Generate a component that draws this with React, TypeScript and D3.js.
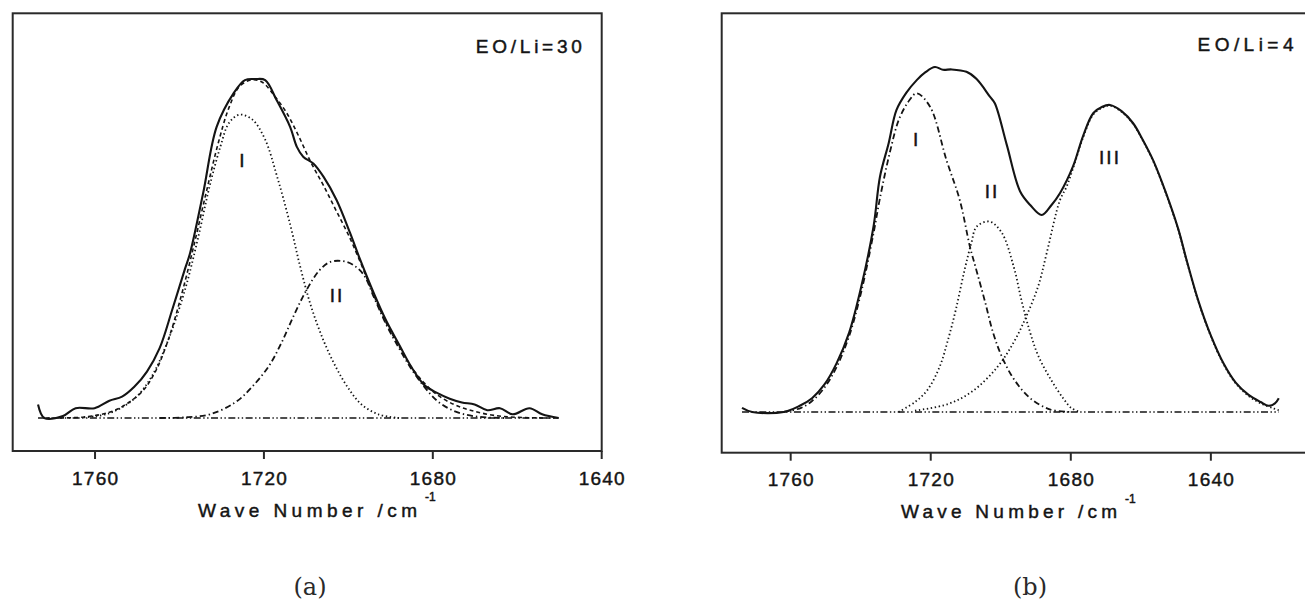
import React from 'react';
import * as d3 from 'd3';

type P = [number, number];

// ---------- data (wave number cm^-1, absorbance a.u.) ----------
const TICK_VALUES = [1760, 1720, 1680, 1640];
const TICK_LABELS = ['1760', '1720', '1680', '1640'];
const AXIS_TITLE = 'Wave Number /cm';
const AXIS_SUP = '-1';
const PANEL_TAGS = ['(a)', '(b)'];
const PANEL_TITLES = ['EO/Li=30', 'EO/Li=4'];
const LABELS_A = ['I', 'II'];
const LABELS_B = ['I', 'II', 'III'];

const A_MAIN: P[] = [
  [1773.5, 0.04], [1772.0, 0.0], [1767.6, 0.006], [1764.6, 0.029], [1760.1, 0.029], [1756.6, 0.051],
  [1753.6, 0.063], [1750.7, 0.092], [1747.7, 0.137], [1744.7, 0.206], [1741.7, 0.32], [1738.7, 0.44],
  [1737.5, 0.486], [1734.4, 0.663], [1731.2, 0.859], [1727.2, 0.958], [1724.5, 0.997], [1722.0, 1.0],
  [1719.7, 0.997], [1717.0, 0.938], [1713.8, 0.859], [1712.2, 0.8], [1710.7, 0.771], [1708.3, 0.751],
  [1705.9, 0.712], [1702.8, 0.643], [1699.6, 0.546], [1697.3, 0.47], [1693.9, 0.366], [1691.0, 0.286],
  [1688.0, 0.217], [1685.0, 0.149], [1682.0, 0.097], [1679.0, 0.074], [1676.0, 0.057], [1673.1, 0.046],
  [1670.1, 0.04], [1667.1, 0.023], [1664.1, 0.029], [1661.1, 0.011], [1657.1, 0.029], [1654.1, 0.011],
  [1650.2, 0.0],
];
const A_FIT: P[] = [
  [1771.6, 0.0], [1762.6, 0.003], [1756.6, 0.017], [1752.7, 0.04], [1748.7, 0.08], [1745.7, 0.137],
  [1742.7, 0.229], [1739.7, 0.355], [1736.7, 0.503], [1733.7, 0.664], [1730.8, 0.812], [1728.3, 0.915],
  [1725.8, 0.978], [1722.8, 0.998], [1720.3, 0.99], [1717.8, 0.955], [1714.8, 0.904], [1711.9, 0.835],
  [1708.9, 0.755], [1705.9, 0.686], [1702.9, 0.612], [1699.9, 0.538], [1696.9, 0.452], [1693.9, 0.36],
  [1691.0, 0.28], [1688.0, 0.212], [1685.0, 0.149], [1682.0, 0.103], [1679.0, 0.069], [1675.0, 0.04],
  [1671.1, 0.023], [1666.1, 0.009], [1660.1, 0.002], [1650.2, 0.0],
];
const A_I: P[] = [
  [1762.6, 0.002], [1756.6, 0.014], [1750.7, 0.057], [1746.7, 0.12], [1742.7, 0.229], [1738.7, 0.378],
  [1735.7, 0.526], [1732.8, 0.687], [1730.3, 0.801], [1728.3, 0.87], [1725.8, 0.895], [1722.8, 0.881],
  [1719.8, 0.824], [1716.8, 0.709], [1713.8, 0.572], [1711.4, 0.446], [1708.9, 0.332], [1705.9, 0.229],
  [1702.9, 0.149], [1699.9, 0.086], [1696.9, 0.04], [1692.9, 0.011], [1688.0, 0.0],
];
const A_II: P[] = [
  [1744.7, 0.0], [1738.7, 0.002], [1732.8, 0.011], [1726.8, 0.046], [1722.8, 0.092], [1718.8, 0.154],
  [1715.8, 0.223], [1712.9, 0.303], [1709.9, 0.378], [1706.9, 0.435], [1704.4, 0.46], [1701.4, 0.463],
  [1698.9, 0.452], [1696.4, 0.423], [1693.9, 0.355], [1691.0, 0.275], [1688.0, 0.206], [1685.0, 0.143],
  [1682.0, 0.092], [1679.0, 0.051], [1675.0, 0.021], [1670.1, 0.005], [1663.1, 0.0],
];
const A_BASE: P[] = [[1773.5, 0], [1650.2, 0]];

const B_MAIN: P[] = [
  [1773.9, 0.012], [1771.0, 0.0], [1762.0, 0.0], [1757.4, 0.018], [1753.9, 0.04], [1750.4, 0.079],
  [1746.9, 0.141], [1743.3, 0.23], [1739.8, 0.365], [1736.3, 0.54], [1734.5, 0.682], [1732.0, 0.78],
  [1729.8, 0.875], [1727.0, 0.925], [1724.0, 0.962], [1721.5, 0.985], [1718.8, 1.0], [1716.5, 0.992],
  [1714.0, 0.993], [1709.8, 0.986], [1706.9, 0.965], [1703.1, 0.914], [1701.7, 0.895], [1698.3, 0.775],
  [1694.5, 0.64], [1691.6, 0.6], [1688.3, 0.571], [1685.5, 0.6], [1683.1, 0.634], [1679.4, 0.711],
  [1676.5, 0.8], [1673.6, 0.866], [1671.0, 0.885], [1668.8, 0.89], [1665.5, 0.872], [1662.2, 0.837],
  [1659.5, 0.79], [1656.5, 0.73], [1653.0, 0.64], [1649.3, 0.53], [1647.0, 0.443], [1643.5, 0.32],
  [1639.9, 0.219], [1636.4, 0.141], [1632.9, 0.085], [1629.4, 0.051], [1625.8, 0.029], [1623.5, 0.018],
  [1621.7, 0.025], [1620.6, 0.04],
];
const B_I: P[] = [
  [1762.0, 0.0], [1757.0, 0.012], [1753.9, 0.032], [1750.4, 0.07], [1746.9, 0.13], [1743.3, 0.22],
  [1739.8, 0.35], [1736.3, 0.52], [1734.5, 0.62], [1731.5, 0.76], [1729.0, 0.85], [1726.0, 0.905],
  [1724.0, 0.924], [1720.2, 0.885], [1715.5, 0.73], [1711.7, 0.614], [1708.8, 0.479], [1706.9, 0.409],
  [1704.5, 0.32], [1702.2, 0.23], [1699.8, 0.163], [1696.3, 0.096], [1691.6, 0.04], [1685.8, 0.007],
  [1679.9, 0.0],
];
const B_II: P[] = [
  [1729.2, 0.0], [1724.5, 0.029], [1721.0, 0.063], [1717.5, 0.13], [1715.1, 0.208], [1712.8, 0.298],
  [1710.4, 0.409], [1708.4, 0.49], [1706.9, 0.537], [1703.2, 0.552], [1699.8, 0.521], [1696.3, 0.421],
  [1694.0, 0.32], [1691.6, 0.23], [1689.3, 0.163], [1685.8, 0.096], [1682.2, 0.04], [1679.9, 0.012],
  [1677.5, 0.0],
];
const B_III: P[] = [
  [1724.5, 0.004], [1715.1, 0.023], [1708.1, 0.06], [1701.0, 0.13], [1696.3, 0.202], [1692.8, 0.275],
  [1689.3, 0.365], [1686.9, 0.46], [1683.1, 0.614], [1681.2, 0.653], [1679.4, 0.705], [1676.5, 0.795],
  [1673.6, 0.862], [1671.0, 0.882], [1668.8, 0.888], [1665.5, 0.87], [1662.2, 0.835], [1659.5, 0.788],
  [1656.5, 0.728], [1653.0, 0.638], [1649.3, 0.528], [1647.0, 0.441], [1643.5, 0.318], [1639.9, 0.217],
  [1636.4, 0.139], [1632.9, 0.083], [1629.4, 0.048], [1625.8, 0.025], [1622.0, 0.01], [1620.6, 0.005],
];
const B_BASE: P[] = [[1773.9, 0], [1620.6, 0]];

// label anchor positions in data units
const A_LABEL_POS: P[] = [[1725.0, 0.761], [1702.7, 0.36]];
const B_LABEL_POS: P[] = [[1724.0, 0.791], [1702.5, 0.638], [1668.8, 0.739]];

// ---------- styles ----------
const INK = '#141414';
const SANS = '"Liberation Sans", Arial, sans-serif';
const DOT = '1.4 2.6';
const DASHDOT = '6 3 1.4 3';
const DASHDOTDOT = '7 2.5 1.4 2.5 1.4 2.5';
const DASH = '4 3';
const TXT = { fill: INK, stroke: INK, strokeWidth: 0.45 };

type Series = { data: P[]; dash?: string; width: number };

type PanelProps = {
  xDomain: [number, number];
  xRange: [number, number];
  yDomain: [number, number];
  yRange: [number, number];
  series: Series[];
  labels: string[];
  labelPos: P[];
  title: string;
  titleEnd: P;
  titleLen: number;
  axisStartX: number;
  axisLen: number;
  tag: string;
  tagX: number;
  clipId: string;
};

function Panel(p: PanelProps) {
  const x = d3.scaleLinear().domain(p.xDomain).range(p.xRange);
  const y = d3.scaleLinear().domain(p.yDomain).range(p.yRange);
  const line = d3
    .line<P>()
    .x((d) => x(d[0]))
    .y((d) => y(d[1]))
    .curve(d3.curveCatmullRom.alpha(0.5));
  const [x0, x1] = p.xRange;
  const [yb, yt] = p.yRange;
  return (
    <g>
      <defs>
        <clipPath id={p.clipId}>
          <rect x={x0} y={yt} width={x1 - x0} height={yb - yt} />
        </clipPath>
      </defs>
      <g clipPath={`url(#${p.clipId})`}>
        {p.series.map((s, i) => (
          <path
            key={i}
            d={line(s.data) || ''}
            fill="none"
            stroke={INK}
            strokeWidth={s.width}
            strokeDasharray={s.dash}
            strokeLinejoin="round"
          />
        ))}
      </g>
      <rect x={x0} y={yt} width={x1 - x0} height={yb - yt} fill="none" stroke="#2a2a2a" strokeWidth={2} />
      {TICK_VALUES.map((t, i) => (
        <g key={t}>
          <line x1={x(t)} x2={x(t)} y1={yb} y2={yb + 8} stroke="#2a2a2a" strokeWidth={2} />
          <text
            x={x(t)}
            y={yb + 27}
            textAnchor="middle"
            dominantBaseline="central"
            fontFamily={SANS}
            fontSize={19}
            textLength={46}
            lengthAdjust="spacing"
            {...TXT}
          >
            {TICK_LABELS[i]}
          </text>
        </g>
      ))}
      <text
        x={p.axisStartX}
        y={yb + 59}
        dominantBaseline="central"
        fontFamily={SANS}
        fontSize={19}
        textLength={p.axisLen}
        lengthAdjust="spacing"
        {...TXT}
      >
        {AXIS_TITLE}
      </text>
      <text
        x={p.axisStartX + p.axisLen + 8}
        y={yb + 46}
        dominantBaseline="central"
        fontFamily={SANS}
        fontSize={12}
        {...TXT}
      >
        {AXIS_SUP}
      </text>
      <text
        x={x(p.titleEnd[0])}
        y={y(p.titleEnd[1])}
        textAnchor="end"
        dominantBaseline="central"
        fontFamily={SANS}
        fontSize={19}
        textLength={p.titleLen}
        lengthAdjust="spacing"
        {...TXT}
      >
        {p.title}
      </text>
      {p.labels.map((l, i) => (
        <text
          key={l}
          x={x(p.labelPos[i][0])}
          y={y(p.labelPos[i][1])}
          textAnchor="middle"
          dominantBaseline="central"
          fontFamily={SANS}
          fontSize={19}
          letterSpacing={2}
          {...TXT}
        >
          {l}
        </text>
      ))}
      <text
        x={p.tagX}
        y={587}
        textAnchor="middle"
        dominantBaseline="central"
        fontFamily='"DejaVu Serif", serif'
        fontSize={24}
        fill="#2a2a2a"
      >
        {p.tag}
      </text>
    </g>
  );
}

export default function App() {
  return (
    <svg
      width={1305}
      height={606}
      style={{ position: 'absolute', left: 0, top: 0, background: '#fff' }}
    >
      <rect x={0} y={0} width={1305} height={606} fill="#fff" />
      <Panel
        xDomain={[1779.5, 1640]}
        xRange={[12.7, 601.7]}
        yDomain={[-0.0973, 1.194]}
        yRange={[451, 13.3]}
        series={[
          { data: A_BASE, dash: DASHDOTDOT, width: 1.7 },
          { data: A_I, dash: DOT, width: 1.8 },
          { data: A_II, dash: DASHDOT, width: 1.8 },
          { data: A_FIT, dash: DASH, width: 1.6 },
          { data: A_MAIN, width: 2.1 },
        ]}
        labels={LABELS_A}
        labelPos={A_LABEL_POS}
        title={PANEL_TITLES[0]}
        titleEnd={[1644.7, 1.097]}
        titleLen={106}
        axisStartX={198}
        axisLen={219}
        tag={PANEL_TAGS[0]}
        tagX={310}
        clipId="clipA"
      />
      <Panel
        xDomain={[1779.7, 1610]}
        xRange={[721.7, 1315.9]}
        yDomain={[-0.118, 1.1557]}
        yRange={[452.7, 13.3]}
        series={[
          { data: B_BASE, dash: DASHDOTDOT, width: 1.7 },
          { data: B_I, dash: DASHDOT, width: 1.8 },
          { data: B_II, dash: DOT, width: 1.8 },
          { data: B_III, dash: DOT, width: 1.8 },
          { data: B_MAIN, width: 2.1 },
        ]}
        labels={LABELS_B}
        labelPos={B_LABEL_POS}
        title={PANEL_TITLES[1]}
        titleEnd={[1616.4, 1.064]}
        titleLen={96}
        axisStartX={901}
        axisLen={216}
        tag={PANEL_TAGS[1]}
        tagX={1030}
        clipId="clipB"
      />
    </svg>
  );
}
